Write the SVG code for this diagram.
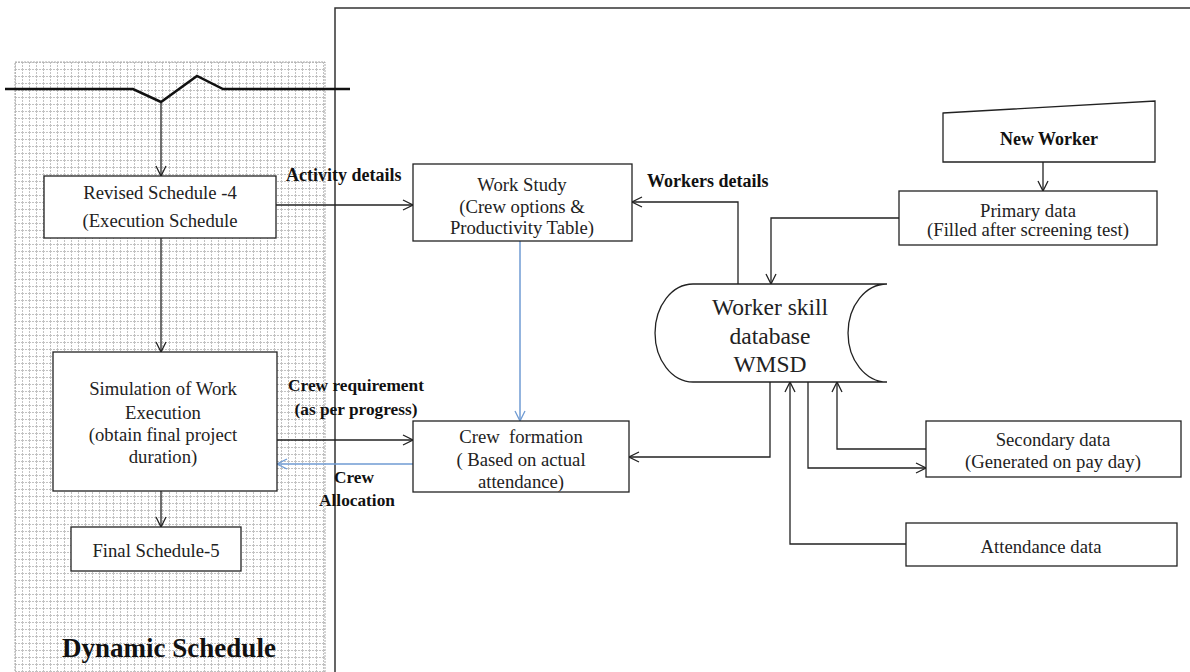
<svg xmlns="http://www.w3.org/2000/svg" width="1190" height="672" viewBox="0 0 1190 672">
<defs>
<pattern id="grid" width="7" height="7" patternUnits="userSpaceOnUse" x="15" y="62">
<path d="M0 0.5H7M0.5 0V7" stroke="#c2c2c2" stroke-width="1" stroke-dasharray="2 1" fill="none"/>
</pattern>
<marker id="arr" markerWidth="12" markerHeight="12" viewBox="0 0 12 12" refX="11" refY="6" orient="auto" markerUnits="userSpaceOnUse">
<polyline points="1,1 11,6 1,11" fill="none" stroke="#222" stroke-width="1.3"/>
</marker>
<marker id="arrb" markerWidth="12" markerHeight="12" viewBox="0 0 12 12" refX="11" refY="6" orient="auto" markerUnits="userSpaceOnUse">
<polyline points="1,1 11,6 1,11" fill="none" stroke="#6f9bd3" stroke-width="1.3"/>
</marker>
</defs>
<style>
.box{fill:#fff;stroke:#222;stroke-width:1.3}
text{font-family:Liberation Serif,Times New Roman,DejaVu Serif,serif}
.t{font-size:18.7px;fill:#222;text-anchor:middle}
.b{font-size:18px;font-weight:bold;fill:#111}
.c{fill:none;stroke:#222;stroke-width:1.3}
.blue{fill:none;stroke:#6f9bd3;stroke-width:1.5}
</style>
<rect width="1190" height="672" fill="#fff"/>
<g id="dynamic-panel">
<rect x="15" y="62" width="310" height="620" fill="url(#grid)" stroke="#aaa" stroke-width="1" stroke-dasharray="2 1"/>
<text class="b" x="169" y="657" text-anchor="middle" style="font-size:27px">Dynamic Schedule</text>
</g>
<g id="right-panel">
<path d="M335 672V8H1190" fill="none" stroke="#333" stroke-width="1.5"/>
</g>
<g id="break-line">
<polyline points="5,89 133,89 161,102 197,76 223,89 350,89" fill="none" stroke="#111" stroke-width="2.5"/>
</g>
<g id="connectors">
<line class="c" x1="161" y1="102" x2="161" y2="176" marker-end="url(#arr)"/>
<line class="c" x1="276" y1="205" x2="413" y2="205" marker-end="url(#arr)"/>
<line class="c" x1="161" y1="238" x2="161" y2="352" marker-end="url(#arr)"/>
<line class="c" x1="161" y1="491" x2="161" y2="527" marker-end="url(#arr)"/>
<polyline class="c" points="738,284 738,202 632,202" marker-end="url(#arr)"/>
<polyline class="c" points="899,218 771,218 771,284" marker-end="url(#arr)"/>
<line class="c" x1="1043" y1="162" x2="1043" y2="191" marker-end="url(#arr)"/>
<polyline class="c" points="770,382 770,457 629,457" marker-end="url(#arr)"/>
<line class="c" x1="277" y1="440" x2="413" y2="440" marker-end="url(#arr)"/>
<line class="blue" x1="413" y1="464" x2="277" y2="464" marker-end="url(#arrb)"/>
<line class="blue" x1="520" y1="241" x2="520" y2="421" marker-end="url(#arrb)"/>
<polyline class="c" points="926,449 837,449 837,382" marker-end="url(#arr)"/>
<polyline class="c" points="808,382 808,468 926,468" marker-end="url(#arr)"/>
<polyline class="c" points="906,544 790,544 790,382" marker-end="url(#arr)"/>
</g>
<g id="labels">
<text class="b" x="286" y="181">Activity details</text>
<text class="b" x="647" y="187">Workers details</text>
<text class="b" x="356" y="391" text-anchor="middle" style="font-size:17.3px">Crew requirement</text>
<text class="b" x="356" y="415" text-anchor="middle" style="font-size:17.3px">(as per progress)</text>
<text class="b" x="354" y="483" text-anchor="middle" style="font-size:17.3px">Crew</text>
<text class="b" x="357" y="506" text-anchor="middle" style="font-size:17.3px">Allocation</text>
</g>
<g id="revised-schedule">
<rect class="box" x="44" y="176" width="232" height="62"/>
<text class="t" x="160" y="199">Revised Schedule -4</text>
<text class="t" x="160" y="227">(Execution Schedule</text>
</g>
<g id="simulation">
<rect class="box" x="53" y="352" width="224" height="139"/>
<text class="t" x="163" y="395">Simulation of Work</text>
<text class="t" x="163" y="419">Execution</text>
<text class="t" x="163" y="441">(obtain final project</text>
<text class="t" x="163" y="463">duration)</text>
</g>
<g id="final-schedule">
<rect class="box" x="71" y="527" width="170" height="44"/>
<text class="t" x="156" y="557">Final Schedule-5</text>
</g>
<g id="work-study">
<rect class="box" x="413" y="164" width="219" height="77"/>
<text class="t" x="522" y="191">Work Study</text>
<text class="t" x="522" y="213">(Crew options &amp;</text>
<text class="t" x="522" y="234">Productivity Table)</text>
</g>
<g id="crew-formation">
<rect class="box" x="413" y="421" width="216" height="71"/>
<text class="t" x="521" y="443" xml:space="preserve">Crew  formation</text>
<text class="t" x="521" y="466">( Based on actual</text>
<text class="t" x="521" y="488">attendance)</text>
</g>
<g id="new-worker">
<polygon class="box" points="943,113 1155,101 1155,162 943,162"/>
<text class="b" x="1049" y="145" text-anchor="middle">New Worker</text>
</g>
<g id="primary-data">
<rect class="box" x="899" y="191" width="258" height="54"/>
<text class="t" x="1028" y="217">Primary data</text>
<text class="t" x="1028" y="236">(Filled after screening test)</text>
</g>
<g id="database">
<path class="box" d="M693 284H887A39 49 0 0 0 887 382H693A38 49 0 0 1 693 284Z"/>
<text class="t" x="770" y="315" style="font-size:23.5px">Worker skill</text>
<text class="t" x="770" y="344" style="font-size:23.5px">database</text>
<text class="t" x="770" y="372" style="font-size:23.5px">WMSD</text>
</g>
<g id="secondary-data">
<rect class="box" x="926" y="421" width="255" height="56"/>
<text class="t" x="1053" y="446">Secondary data</text>
<text class="t" x="1053" y="468">(Generated on pay day)</text>
</g>
<g id="attendance-data">
<rect class="box" x="906" y="523" width="271" height="43"/>
<text class="t" x="1041" y="553">Attendance data</text>
</g>
</svg>
